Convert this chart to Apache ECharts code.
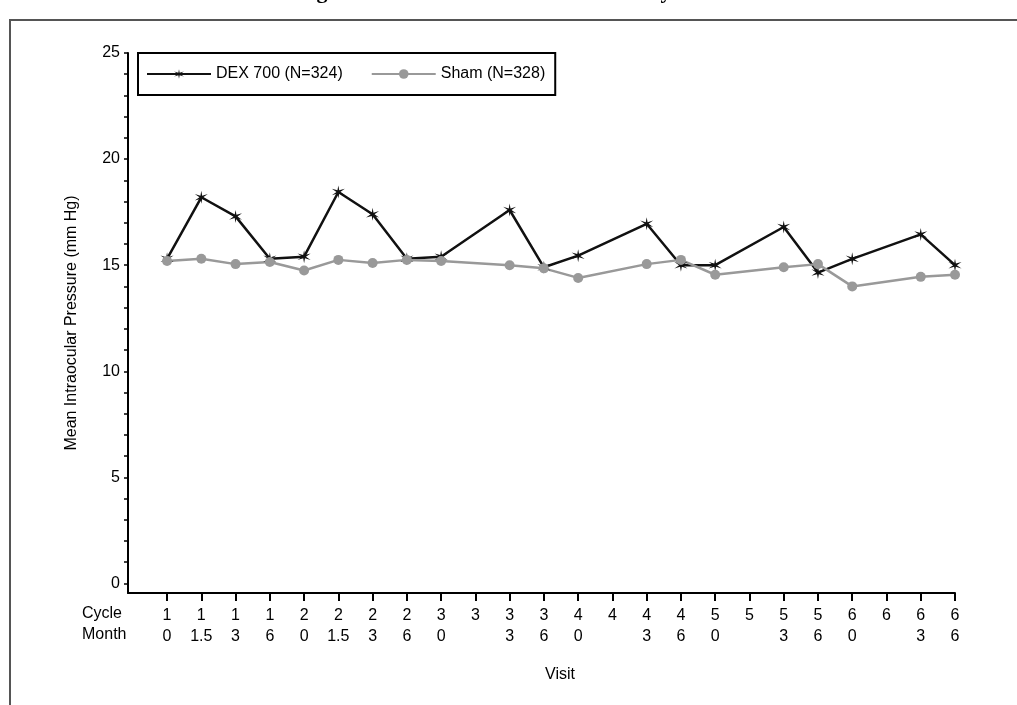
<!DOCTYPE html>
<html>
<head>
<meta charset="UTF-8">
<script src="https://cdn.jsdelivr.net/npm/echarts@6/dist/echarts.min.js"></script>
<style>body{margin:0;background:#fff}#c{width:1017px;height:705px}</style>
</head>
<body>
<div id="c"></div>
<script>
var cycles = ['1','1','1','1','2','2','2','2','3','3','3','3','4','4','4','4','5','5','5','5','6','6','6','6'];
var months = ['0','1.5','3','6','0','1.5','3','6','0','','3','6','0','','3','6','0','','3','6','0','','3','6'];
var dex = [15.3,18.2,17.3,15.3,15.4,18.45,17.4,15.3,15.4,null,17.6,14.9,15.45,null,16.95,15.0,15.0,null,16.8,14.65,15.3,null,16.45,15.0];
var sham = [15.2,15.3,15.05,15.15,14.75,15.25,15.1,15.25,15.2,null,15.0,14.85,14.4,null,15.05,15.25,14.55,null,14.9,15.05,14.0,null,14.45,14.55];

function pairs(arr) {
    var out = [];
    for (var i = 0; i < arr.length; i++) {
        if (arr[i] !== null) out.push([i, arr[i]]);
    }
    return out;
}
var idx = cycles.map(function (c, i) { return i; });
var yTicks = [];
for (var v = 0; v <= 25; v++) { yTicks.push(v); }

var chart = echarts.init(document.getElementById('c'));
var font = 'Liberation Sans, Arial, sans-serif';
chart.setOption({
    animation: false,
    textStyle: {fontFamily: font, color: '#000'},
    graphic: [
        {type: 'rect', shape: {x: 10, y: 20, width: 1020, height: 700}, style: {fill: 'none', stroke: '#555', lineWidth: 2}},
        {type: 'text', left: 'center', top: -19, style: {text: 'Figure 2: Mean Intraocular Pressure by Visit', font: 'bold 22px Liberation Serif, serif', fill: '#000'}},
        {type: 'text', left: 82, top: 603, style: {text: 'Cycle\nMonth', font: '16px ' + font, fill: '#000', lineHeight: 21, align: 'left'}},
        {type: 'text', left: 545, top: 667, style: {text: 'Visit', font: '16px ' + font, fill: '#000'}}
    ],
    legend: {
        left: 138, top: 53, itemGap: 28, itemWidth: 64, itemHeight: 12,
        borderColor: '#000', borderWidth: 2, padding: [13, 10, 13, 8],
        textStyle: {fontSize: 16, fontFamily: font, color: '#000'},
        data: ['DEX 700 (N=324)', 'Sham (N=328)']
    },
    grid: {left: 128, right: 62, top: 53, bottom: 112},
    xAxis: {
        type: 'value', min: -1.14, max: 23,
        axisLine: {onZero: false, lineStyle: {color: '#000', width: 2}},
        splitLine: {show: false},
        axisTick: {customValues: idx, length: 8, lineStyle: {color: '#000', width: 2}},
        axisLabel: {
            customValues: idx, fontSize: 16, color: '#000', lineHeight: 21, margin: 12,
            formatter: function (val) { var i = Math.round(val); return cycles[i] + '\n' + (months[i] || ' '); }
        }
    },
    yAxis: {
        type: 'value', min: -0.45, max: 25,
        name: 'Mean Intraocular Pressure (mm Hg)', nameLocation: 'middle', nameGap: 48,
        nameTextStyle: {fontSize: 16, color: '#000'},
        axisLine: {onZero: false, lineStyle: {color: '#000', width: 2}},
        splitLine: {show: false},
        axisTick: {customValues: yTicks, length: 4, lineStyle: {color: '#000', width: 1.5}},
        axisLabel: {customValues: [0, 5, 10, 15, 20, 25], fontSize: 16, color: '#000', margin: 8}
    },
    series: [
        {
            name: 'DEX 700 (N=324)', type: 'line', data: pairs(dex),
            symbol: 'path://M0,-10L1.2,-2.5L8.7,-5L2.5,0L8.7,5L1.2,2.5L0,10L-1.2,2.5L-8.7,5L-2.5,0L-8.7,-5L-1.2,-2.5Z',
            symbolSize: 13, showAllSymbol: true,
            lineStyle: {color: '#111', width: 2.5}, itemStyle: {color: '#111'}
        },
        {
            name: 'Sham (N=328)', type: 'line', data: pairs(sham),
            symbol: 'circle', symbolSize: 10, showAllSymbol: true,
            lineStyle: {color: '#999', width: 2.5}, itemStyle: {color: '#999'}
        }
    ]
});
</script>
</body>
</html>
